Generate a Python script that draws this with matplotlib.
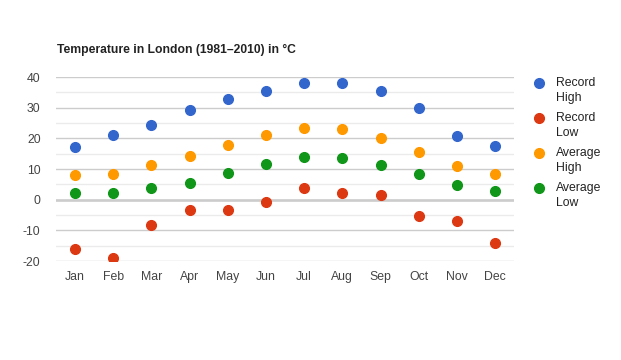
import matplotlib
matplotlib.use('Agg')
import matplotlib.pyplot as plt
from matplotlib.lines import Line2D
from matplotlib.ticker import MultipleLocator

plt.rcParams['font.family'] = ['Liberation Sans', 'DejaVu Sans']
plt.rcParams['axes.unicode_minus'] = False

months = ['Jan', 'Feb', 'Mar', 'Apr', 'May', 'Jun', 'Jul', 'Aug', 'Sep', 'Oct', 'Nov', 'Dec']
record_high = [17.2, 21.2, 24.2, 29.4, 32.8, 35.6, 37.9, 38.1, 35.4, 29.9, 20.8, 17.4]
record_low = [-16.1, -18.9, -8.3, -3.3, -3.3, -0.6, 3.9, 2.1, 1.4, -5.4, -7.1, -14.2]
avg_high = [8.1, 8.4, 11.3, 14.2, 17.9, 21.2, 23.5, 23.2, 20.0, 15.5, 11.1, 8.3]
avg_low = [2.3, 2.1, 3.9, 5.5, 8.7, 11.7, 13.9, 13.7, 11.4, 8.4, 4.9, 2.8]

series = [
    ('Record\nHigh', record_high, '#3366cc'),
    ('Record\nLow', record_low, '#dc3912'),
    ('Average\nHigh', avg_high, '#ff9900'),
    ('Average\nLow', avg_low, '#109618'),
]

W, H = 621, 360
fig = plt.figure(figsize=(6.21, 3.6), dpi=100)
ax = fig.add_axes([0.090, 0.275, 0.738, 0.511])

x = range(len(months))
for label, vals, col in series:
    ax.plot(x, vals, 'o', color=col, markersize=7, label=label, zorder=3)

ax.set_xlim(-0.5, 11.5)
ax.set_ylim(-20, 40)
ax.set_xticks(list(x))
ax.set_xticklabels(months)
ax.yaxis.set_major_locator(MultipleLocator(10))
ax.yaxis.set_minor_locator(MultipleLocator(5))
ax.grid(True, which='major', axis='y', color='#cccccc', linewidth=1, zorder=0)
ax.grid(True, which='minor', axis='y', color='#ebebeb', linewidth=1, zorder=0)
ax.axhline(0, color='#333333', linewidth=1, zorder=1)
for s in ax.spines.values():
    s.set_visible(False)
ax.tick_params(axis='both', which='both', length=0, labelsize=8.8, labelcolor='#444444')
ax.tick_params(axis='y', pad=11)
ax.tick_params(axis='x', pad=7)

fig.text(57 / W, 1 - 50 / H, 'Temperature in London (1981\u20132010) in \u00b0C',
         fontsize=8.7, fontweight='bold', color='#222222', va='center', ha='left')

# legend: marker next to the first line of a two-line label
for i, (label, vals, col) in enumerate(series):
    yc = 1 - (83 + 35 * i) / H
    fig.add_artist(Line2D([539 / W], [yc], marker='o', color=col, markersize=7,
                          linestyle='none', transform=fig.transFigure))
    fig.text(556 / W, yc, label.split('\n')[0], fontsize=8.8, color='#222222',
             va='center', ha='left')
    fig.text(556 / W, yc - 15 / H, label.split('\n')[1], fontsize=8.8, color='#222222',
             va='center', ha='left')

fig.savefig('out.png', dpi=100)
